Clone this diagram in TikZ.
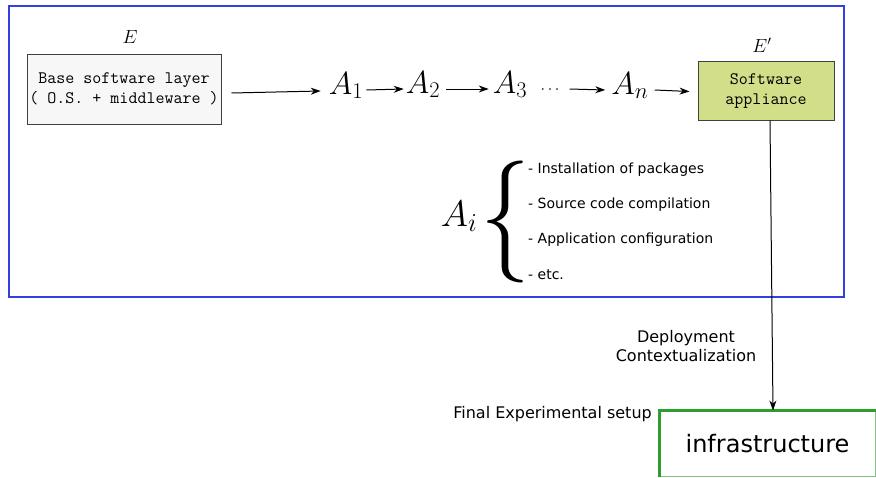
\RequirePackage{fix-cm}
\documentclass[tikz,border=0pt]{standalone}
\usepackage[no-math]{fontspec}
\setmainfont{DejaVu Sans}
\usetikzlibrary{arrows.meta,positioning}
\definecolor{framecolor}{HTML}{3340E0}
\definecolor{appliancefill}{HTML}{D3DE88}
\definecolor{infragreen}{HTML}{2E9E2E}
\definecolor{layerfill}{HTML}{F7F7F7}
\tikzset{
  box/.style={draw=black!75, line width=1pt, inner sep=0pt, align=center,
              font=\ttfamily\fontsize{17.5}{20}\selectfont},
  layerbox/.style={box, fill=layerfill, minimum width=194pt, minimum height=70pt},
  appliancebox/.style={box, fill=appliancefill, minimum width=136pt, minimum height=59pt},
  actnode/.style={font=\fontsize{32}{32}\selectfont, inner sep=0pt,
                  text height=12pt, text depth=4pt},
  envlabel/.style={font=\fontsize{19}{19}\selectfont, inner sep=0pt},
  flow/.style={-{Stealth[length=10pt,width=7pt]}, line width=1pt},
  item/.style={font=\fontsize{14}{14}\selectfont, anchor=west, inner sep=0pt},
  note/.style={font=\fontsize{16}{19}\selectfont, align=center, inner sep=0pt},
}

\begin{document}
\begin{tikzpicture}[x=1pt, y=-1pt]
    \useasboundingbox (0,0) rectangle (876,477);
    % build environment
    \draw[framecolor, line width=2.5pt] (9,6) rectangle (844,297);
    \node[layerbox] (layer) at (124,89) {Base software layer\\( O.S. + middleware )};
    \node[envlabel] (elabel) at (130,37) {$E$};
    \node[appliancebox] (appl) at (766,90.5) {Software\\appliance};
    \node[envlabel] (eplabel) at (762,45) {$E'$};
    % chain of actions
    \node[actnode] (a1) at (346,90) {$A_1$};
    \node[actnode] (a2) at (423,89) {$A_2$};
    \node[actnode] (a3) at (510,89) {$A_3$};
    \node[actnode, font=\fontsize{16}{16}\selectfont] (dots) at (550,89) {$\cdots$};
    \node[actnode] (an) at (630,90) {$A_n$};
    \draw[flow] ([xshift=10pt,yshift=-4pt]layer.east) -- ([xshift=-8pt,yshift=-1pt]a1.west);
    \draw[flow] ([xshift=3pt]a1.east) -- ([xshift=-2pt]a2.west);
    \draw[flow] ([xshift=6pt]a2.east) -- ([xshift=-4pt]a3.west);
    \draw[flow] ([xshift=10pt]dots.east) -- ([xshift=-6pt]an.west);
    \draw[flow] ([xshift=6pt]an.east) -- ([xshift=-8pt,yshift=-1pt]appl.west);
    % what an action is
    \node[actnode, font=\fontsize{37}{37}\selectfont] (ai) at (459,222) {$A_i$};
    \node[inner sep=0pt] (brace) at (505,222) {\resizebox*{50pt}{122pt}{$\{$}};
    \node[item] (i1) at (528,170) {- Installation of packages};
    \node[item] (i2) at (528,205) {- Source code compilation};
    \node[item] (i3) at (528,240) {- Application configuration};
    \node[item] (i4) at (528,275) {- etc.};
    % deployment
    \node[draw=infragreen!60, line width=1pt, minimum width=215pt, minimum height=65pt,
          font=\fontsize{24}{24}\selectfont] (infra) at (767.5,443.5) {infrastructure};
    \draw[infragreen, line width=3pt] (infra.south west) -- (infra.north west) -- (infra.north east);
    \draw[flow] ([xshift=4pt]appl.south) -- ([xshift=5.5pt]infra.north);
    \node[note] (deploy) at (686,346) {Deployment\\Contextualization};
    \node[note, anchor=east] (setup) at (652,414) {Final Experimental setup};
\end{tikzpicture}
\end{document}
